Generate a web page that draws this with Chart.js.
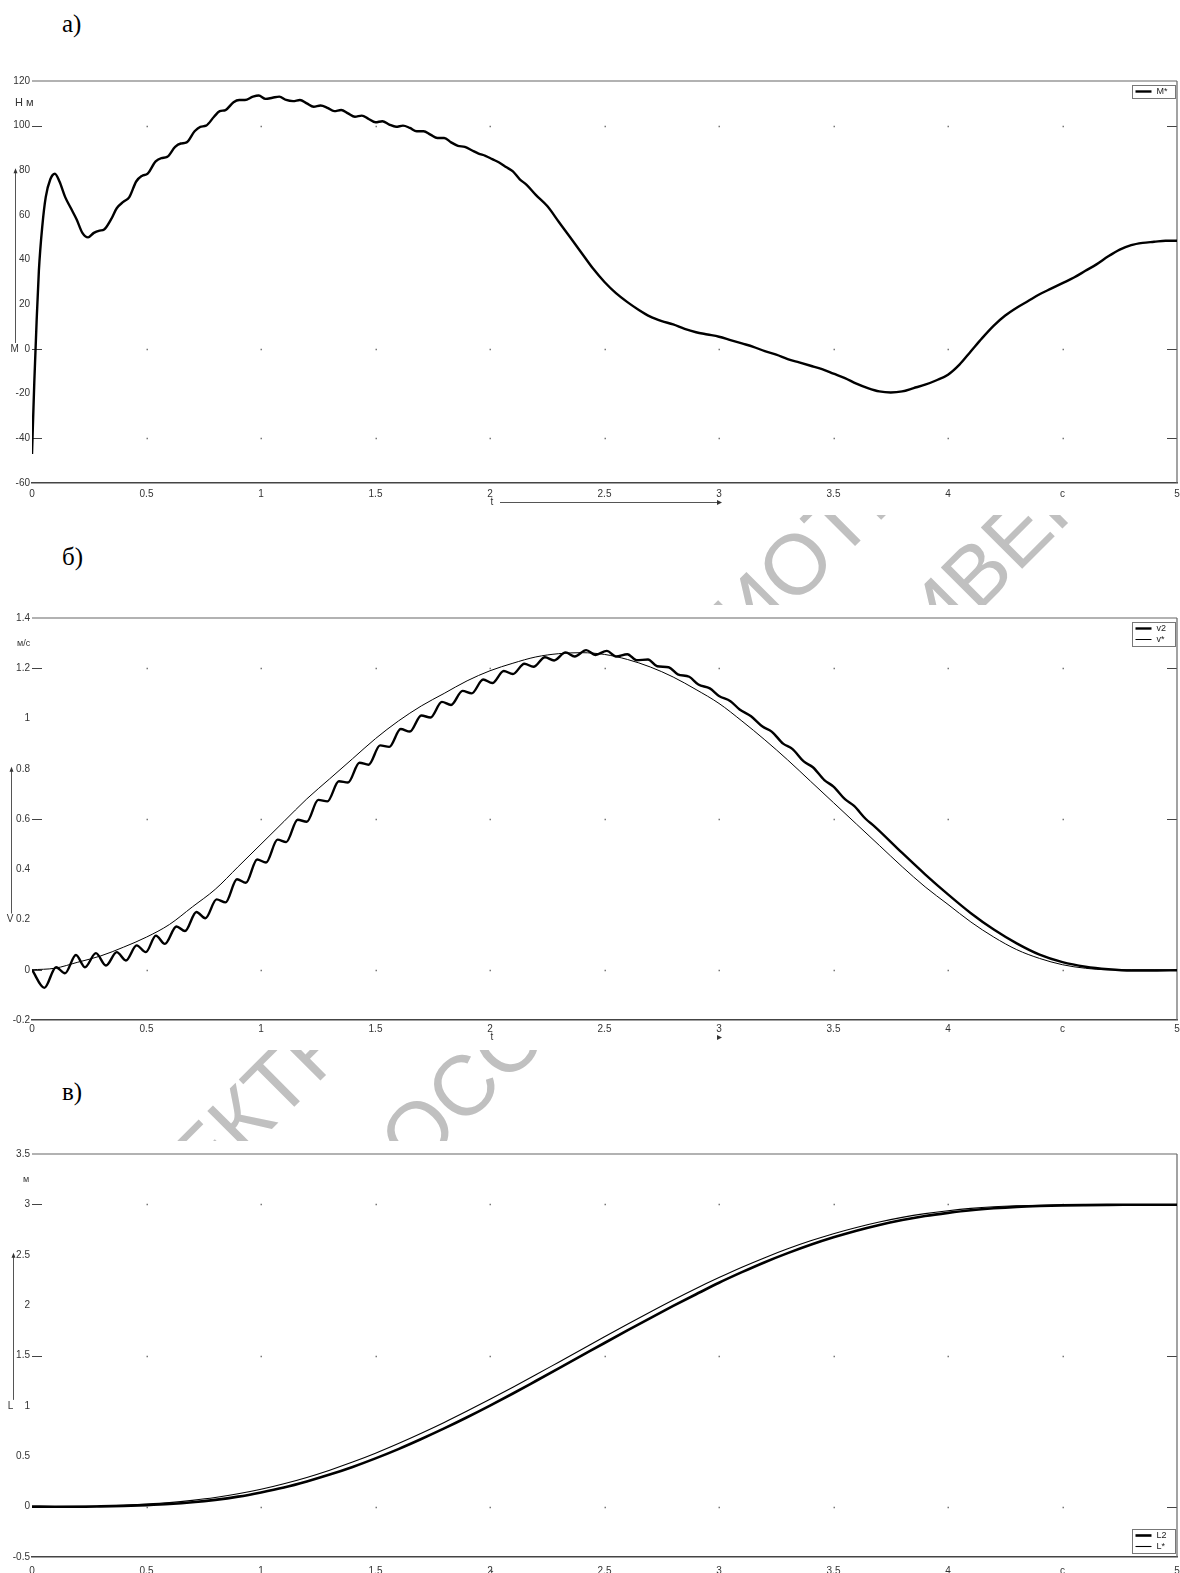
<!DOCTYPE html>
<html lang="ru">
<head>
<meta charset="utf-8">
<script src="https://cdn.jsdelivr.net/npm/chart.js@4.4.0/dist/chart.umd.min.js"></script>
<style>
  html, body { margin: 0; padding: 0; background: #fff; }
  body { position: relative; width: 1180px; height: 1573px; overflow: hidden; }
  .wm { position: absolute; font: 85px/85px "Liberation Sans", Arial, sans-serif; color: #c0c0c0;
        white-space: nowrap; transform-origin: 0 72px; transform: rotate(-45deg); }
  canvas { position: absolute; left: 0; background: #fff; }
  .lbl { position: absolute; left: 62px; font: 25px/25px "Liberation Serif", "Times New Roman", serif; color: #000; }
</style>
</head>
<body>
<div class="wm" style="left:123px; top:1206px">ЭЛЕКТРОННАЯ БИБЛИОТЕКА</div>
<div class="wm" style="left:-54px; top:1573px">БЕЛОРУССКО-РОССИЙСКОГО УНИВЕРСИТЕТА</div>

<div class="lbl" style="top:11px">а)</div>
<canvas id="chartM" width="1180" height="455" style="top:60px"></canvas>
<div class="lbl" style="top:544px">б)</div>
<canvas id="chartV" width="1180" height="445" style="top:605px"></canvas>
<div class="lbl" style="top:1079px">в)</div>
<canvas id="chartL" width="1180" height="432" style="top:1141px"></canvas>

<script>
// x axis (time, s)
const xTicks = [0, 0.5, 1, 1.5, 2, 2.5, 3, 3.5, 4, 4.5, 5];
const xTickText = ['0', '0.5', '1', '1.5', '2', '2.5', '3', '3.5', '4', 'с', '5'];

// a) torque M*
const tM = [0, 0.01, 0.02, 0.03, 0.045, 0.06, 0.08, 0.1, 0.12, 0.145,
  0.17, 0.195, 0.22, 0.245, 0.27, 0.295, 0.315, 0.345, 0.37, 0.4,
  0.425, 0.455, 0.48, 0.505, 0.54, 0.565, 0.59, 0.625, 0.65, 0.675,
  0.71, 0.735, 0.76, 0.795, 0.82, 0.845, 0.88, 0.905, 0.93, 0.965,
  0.99, 1.02, 1.05, 1.08, 1.11, 1.14, 1.17, 1.2, 1.23, 1.26,
  1.29, 1.32, 1.35, 1.38, 1.41, 1.44, 1.47, 1.5, 1.53, 1.56,
  1.59, 1.62, 1.65, 1.68, 1.71, 1.74, 1.77, 1.8, 1.83, 1.86,
  1.89, 1.92, 1.95, 1.98, 2.01, 2.04, 2.07, 2.1, 2.13, 2.16,
  2.2, 2.25, 2.3, 2.35, 2.4, 2.45, 2.5, 2.55, 2.6, 2.65,
  2.7, 2.75, 2.8, 2.85, 2.9, 2.95, 3, 3.05, 3.1, 3.15,
  3.2, 3.25, 3.3, 3.35, 3.4, 3.45, 3.5, 3.55, 3.6, 3.65,
  3.7, 3.75, 3.8, 3.85, 3.9, 3.95, 4, 4.05, 4.1, 4.15,
  4.2, 4.25, 4.3, 4.35, 4.4, 4.45, 4.5, 4.55, 4.6, 4.65,
  4.7, 4.75, 4.8, 4.85, 4.9, 4.95, 5];
const mStar = [-47, -15, 12, 35, 55, 68, 76, 78.5, 75, 68,
  63, 58, 52, 50, 52, 53, 53.5, 58, 63, 66,
  68, 75, 77.5, 78.5, 84, 85.5, 86, 90.5, 92, 92.5,
  97.5, 99.5, 100, 104, 106.5, 107, 110.5, 111.5, 111.5, 113,
  113.5, 112, 112.5, 113, 111.5, 111, 111.5, 110, 108.5, 109,
  108, 106.5, 107, 105.5, 104, 104.5, 103, 101.5, 102, 100.5,
  99.5, 100, 99, 97.5, 97.5, 96, 94.5, 94.5, 92.5, 91,
  90.5, 89, 87.5, 86.5, 85, 83.5, 81.5, 79.5, 76, 73.5,
  69, 64, 57, 50, 43, 36, 30, 25, 21, 17.5,
  14.5, 12.5, 11, 9, 7.5, 6.5, 5.5, 4, 2.5, 1,
  -1, -2.5, -4.5, -6, -7.5, -9, -11, -13, -15.5, -17.5,
  -19, -19.5, -19, -17.5, -16, -14, -11.5, -7, -1, 5,
  10.5, 15, 18.5, 21.5, 24.5, 27, 29.5, 32, 35, 38,
  41.5, 44.5, 46.5, 47.5, 48, 48.5, 48.5];

// б) speed v2 (measured) and v* (reference)
const tV2 = [0, 0.054, 0.105, 0.144, 0.192, 0.231, 0.279, 0.323, 0.37, 0.41,
  0.457, 0.497, 0.541, 0.58, 0.631, 0.668, 0.718, 0.757, 0.806, 0.845,
  0.895, 0.934, 0.983, 1.022, 1.072, 1.11, 1.16, 1.2, 1.25, 1.29,
  1.34, 1.38, 1.43, 1.47, 1.52, 1.56, 1.61, 1.65, 1.7, 1.74,
  1.79, 1.83, 1.88, 1.92, 1.97, 2.01, 2.06, 2.1, 2.15, 2.19,
  2.24, 2.28, 2.33, 2.37, 2.42, 2.46, 2.51, 2.55, 2.6, 2.64,
  2.69, 2.73, 2.78, 2.82, 2.87, 2.91, 2.96, 3, 3.05, 3.09,
  3.14, 3.19, 3.23, 3.28, 3.32, 3.37, 3.41, 3.46, 3.5, 3.55,
  3.59, 3.64, 3.68, 3.8, 3.9, 4,
  4.1, 4.2, 4.3, 4.4, 4.5, 4.6, 4.7, 4.8, 4.9, 5];
const v2 = [0, -0.072, 0.01, -0.014, 0.059, 0.01, 0.066, 0.017, 0.07, 0.037,
  0.097, 0.07, 0.136, 0.103, 0.172, 0.154, 0.23, 0.205, 0.28, 0.268,
  0.36, 0.346, 0.439, 0.427, 0.518, 0.508, 0.597, 0.589, 0.676, 0.67,
  0.75, 0.745, 0.824, 0.816, 0.893, 0.887, 0.958, 0.948, 1.012, 1.004,
  1.066, 1.054, 1.11, 1.1, 1.155, 1.141, 1.189, 1.177, 1.218, 1.206,
  1.244, 1.231, 1.263, 1.247, 1.272, 1.253, 1.269, 1.247, 1.256, 1.232,
  1.235, 1.208, 1.204, 1.176, 1.166, 1.135, 1.12, 1.09, 1.069, 1.036,
  1.009, 0.968, 0.948, 0.9, 0.879, 0.829, 0.806, 0.755, 0.729, 0.679,
  0.652, 0.601, 0.57, 0.465, 0.38, 0.3,
  0.225, 0.16, 0.105, 0.06, 0.03, 0.012, 0.002, -0.003, -0.003, -0.002];

const tV = [0, 0.1, 0.2, 0.3, 0.4, 0.5, 0.6, 0.7, 0.8, 0.9,
  1, 1.1, 1.2, 1.3, 1.4, 1.5, 1.6, 1.7, 1.8, 1.9,
  2, 2.1, 2.2, 2.3, 2.4, 2.5, 2.6, 2.7, 2.8, 2.9,
  3, 3.1, 3.2, 3.3, 3.4, 3.5, 3.6, 3.7, 3.8, 3.9,
  4, 4.1, 4.2, 4.3, 4.4, 4.5, 4.6, 4.7, 4.8, 4.9, 5];
const vStar = [0, 0.006, 0.03, 0.055, 0.09, 0.13, 0.18, 0.25, 0.32, 0.41,
  0.5, 0.59, 0.68, 0.76, 0.84, 0.92, 0.99, 1.05, 1.1, 1.15,
  1.19, 1.22, 1.245, 1.258, 1.262, 1.255, 1.235, 1.205, 1.165, 1.115,
  1.06, 0.99, 0.915, 0.835, 0.75, 0.665, 0.58, 0.495, 0.41, 0.33,
  0.26, 0.19, 0.13, 0.08, 0.045, 0.02, 0.006, 0, 0, 0, 0];

// в) path L2 (measured) and L* (reference), same time grid as tV
const l2 = [0, -0.001, -0.001, 0.002, 0.007, 0.015, 0.026, 0.043, 0.067, 0.099,
  0.141, 0.19, 0.25, 0.318, 0.394, 0.479, 0.571, 0.671, 0.776, 0.887,
  1.003, 1.123, 1.247, 1.372, 1.498, 1.624, 1.749, 1.872, 1.992, 2.108,
  2.222, 2.327, 2.426, 2.516, 2.599, 2.673, 2.739, 2.796, 2.845, 2.885,
  2.916, 2.942, 2.961, 2.975, 2.984, 2.99, 2.993, 2.995, 2.996, 2.997, 2.997];
const lStar = [0, 0, 0.002, 0.006, 0.014, 0.025, 0.04, 0.062, 0.09, 0.127,
  0.172, 0.227, 0.29, 0.362, 0.442, 0.53, 0.626, 0.728, 0.835, 0.948,
  1.065, 1.185, 1.308, 1.434, 1.56, 1.686, 1.81, 1.932, 2.051, 2.165,
  2.273, 2.376, 2.471, 2.559, 2.638, 2.709, 2.771, 2.825, 2.871, 2.908,
  2.937, 2.96, 2.976, 2.986, 2.992, 2.996, 2.997, 2.998, 2.998, 2.998, 2.998];

// dotted grid levels
const gridM = [100, 0, -40];
const gridV = [1.2, 0.6, 0];
const gridL = [3, 1.5, 0];

Chart.defaults.font.family = '"Liberation Sans", Arial, sans-serif';
Chart.defaults.font.size = 10;
Chart.defaults.color = '#333';

const toXY = (ts, vs) => ts.map((t, i) => ({ x: t, y: vs[i] }));

function xLabel(v) {
  const i = xTicks.findIndex(t => Math.abs(t - v) < 1e-6);
  return i >= 0 ? xTickText[i] : '';
}

// frame, dotted grid, axis arrows, units and the boxed legend
const deco = {
  id: 'deco',
  beforeDatasetsDraw(chart, args, o) {
    const { ctx, chartArea: a, scales: { x, y } } = chart;
    ctx.save();
    o.grid.forEach(gv => {
      const py = Math.round(y.getPixelForValue(gv)) + 0.5;
      ctx.fillStyle = '#777';
      xTicks.slice(1, -1).forEach(tv => {
        ctx.fillRect(Math.round(x.getPixelForValue(tv)) - 0.5, py - 0.75, 1.5, 1.5);
      });
      ctx.strokeStyle = '#444';
      ctx.lineWidth = 1;
      ctx.beginPath();
      ctx.moveTo(a.left, py); ctx.lineTo(a.left + 10, py);
      ctx.moveTo(a.right - 10, py); ctx.lineTo(a.right, py);
      ctx.stroke();
    });
    ctx.strokeStyle = '#666';
    ctx.lineWidth = 1.2;
    ctx.beginPath();
    ctx.moveTo(a.left, a.top); ctx.lineTo(a.right, a.top);
    ctx.moveTo(a.right, a.top); ctx.lineTo(a.right, a.bottom);
    ctx.stroke();
    ctx.restore();
  },
  afterDraw(chart, args, o) {
    const { ctx, chartArea: a, scales: { x, y } } = chart;
    ctx.save();
    ctx.textBaseline = 'middle';

    // units
    ctx.fillStyle = '#333';
    ctx.textAlign = 'left';
    ctx.font = o.unitSize + 'px "Liberation Sans"';
    ctx.fillText(o.unit, o.unitX, y.getPixelForValue(o.unitAt));

    // vertical arrow next to the variable name
    const ax = o.arrowX + 0.5;
    const yb = y.getPixelForValue(o.arrowFrom) - 6;
    const yt = y.getPixelForValue(o.arrowTo) - 2;
    ctx.strokeStyle = '#555';
    ctx.lineWidth = 1;
    ctx.beginPath(); ctx.moveTo(ax, yb); ctx.lineTo(ax, yt + 4); ctx.stroke();
    ctx.fillStyle = '#333';
    ctx.beginPath(); ctx.moveTo(ax, yt); ctx.lineTo(ax - 2, yt + 5); ctx.lineTo(ax + 2, yt + 5); ctx.closePath(); ctx.fill();

    // time arrow under the axis
    const tx = x.getPixelForValue(2);
    const ex = x.getPixelForValue(3) + 3;
    ctx.font = '10px "Liberation Sans"';
    ctx.textAlign = 'center';
    ctx.fillText('t', tx + 2, o.tY);
    if (o.tLine) {
      ctx.beginPath(); ctx.moveTo(tx + 10, o.tY + 0.5); ctx.lineTo(ex - 4, o.tY + 0.5); ctx.stroke();
    }
    ctx.beginPath(); ctx.moveTo(ex, o.tY + 0.5); ctx.lineTo(ex - 5, o.tY - 2); ctx.lineTo(ex - 5, o.tY + 3); ctx.closePath(); ctx.fill();

    // legend box
    const items = chart.data.datasets;
    const w = 43, h = items.length * 11 + 2;
    const bx = Math.round(a.right - w - 2) + 0.5;
    const by = Math.round(o.legend === 'top' ? a.top + 4 : a.bottom - 4 - h) + 0.5;
    ctx.fillStyle = '#fff';
    ctx.fillRect(bx, by, w, h);
    ctx.strokeStyle = '#777';
    ctx.lineWidth = 1;
    ctx.strokeRect(bx, by, w, h);
    ctx.font = '9px "Liberation Sans"';
    ctx.textAlign = 'left';
    items.forEach((ds, i) => {
      const ly = by + 6 + i * 11;
      ctx.strokeStyle = ds.borderColor;
      ctx.lineWidth = ds.borderWidth;
      ctx.beginPath(); ctx.moveTo(bx + 3, ly); ctx.lineTo(bx + 19, ly); ctx.stroke();
      ctx.fillStyle = '#222';
      ctx.fillText(ds.label, bx + 24, ly);
    });
    ctx.restore();
  }
};

function makeChart(id, o) {
  return new Chart(document.getElementById(id), {
    type: 'line',
    data: { datasets: o.datasets },
    plugins: [deco],
    options: {
      responsive: false,
      animation: false,
      devicePixelRatio: 1,
      events: [],
      layout: { padding: { top: o.padTop, right: 3, left: 0, bottom: 0 } },
      elements: {
        point: { radius: 0 },
        line: { cubicInterpolationMode: 'monotone', fill: false }
      },
      scales: {
        x: {
          type: 'linear', min: 0, max: 5,
          afterFit: s => { s.height = o.xHeight; s.paddingLeft = 0; s.paddingRight = 0; },
          grid: { drawOnChartArea: false, drawTicks: false },
          border: { display: true, color: '#444', width: 1.5 },
          ticks: { stepSize: 0.5, autoSkip: false, maxRotation: 0, padding: o.xPad, callback: v => xLabel(v) }
        },
        y: {
          type: 'linear', min: o.yMin, max: o.yMax,
          afterFit: s => { s.width = 32; },
          grid: { display: false, drawTicks: false },
          border: { display: false },
          ticks: {
            stepSize: o.yStep, padding: 2,
            callback: v => {
              const r = Math.round(v * 10) / 10;
              return r === o.nameAt ? o.name + r : String(r);
            }
          }
        }
      },
      plugins: { legend: { display: false }, tooltip: { enabled: false }, deco: o.deco }
    }
  });
}

makeChart('chartM', {
  datasets: [
    { label: 'M*', data: toXY(tM, mStar), borderColor: '#000', borderWidth: 2.4 }
  ],
  yMin: -60, yMax: 120, yStep: 20, name: 'M  ', nameAt: 0,
  padTop: 21, xHeight: 32, xPad: 5,
  deco: { grid: gridM, unit: 'Н м', unitAt: 110, unitX: 15, unitSize: 11,
          arrowX: 15, arrowFrom: 0, arrowTo: 80, tY: 442, tLine: true, legend: 'top' }
});

makeChart('chartV', {
  datasets: [
    { label: 'v2', data: toXY(tV2, v2), borderColor: '#000', borderWidth: 2.4 },
    { label: 'v*', data: toXY(tV, vStar), borderColor: '#000', borderWidth: 1 }
  ],
  yMin: -0.2, yMax: 1.4, yStep: 0.2, name: 'V ', nameAt: 0.2,
  padTop: 13, xHeight: 30, xPad: 3,
  deco: { grid: gridV, unit: 'м/с', unitAt: 1.3, unitX: 17, unitSize: 9,
          arrowX: 11, arrowFrom: 0.2, arrowTo: 0.8, tY: 432, tLine: false, legend: 'top' }
});

makeChart('chartL', {
  datasets: [
    { label: 'L2', data: toXY(tV, l2), borderColor: '#000', borderWidth: 2.6 },
    { label: 'L*', data: toXY(tV, lStar), borderColor: '#000', borderWidth: 1.1 }
  ],
  yMin: -0.5, yMax: 3.5, yStep: 0.5, name: 'L    ', nameAt: 1,
  padTop: 13, xHeight: 16, xPad: 8,
  deco: { grid: gridL, unit: 'м', unitAt: 3.25, unitX: 23, unitSize: 9,
          arrowX: 13, arrowFrom: 1, arrowTo: 2.5, tY: 433, tLine: true, legend: 'bottom' }
});
</script>
</body>
</html>
